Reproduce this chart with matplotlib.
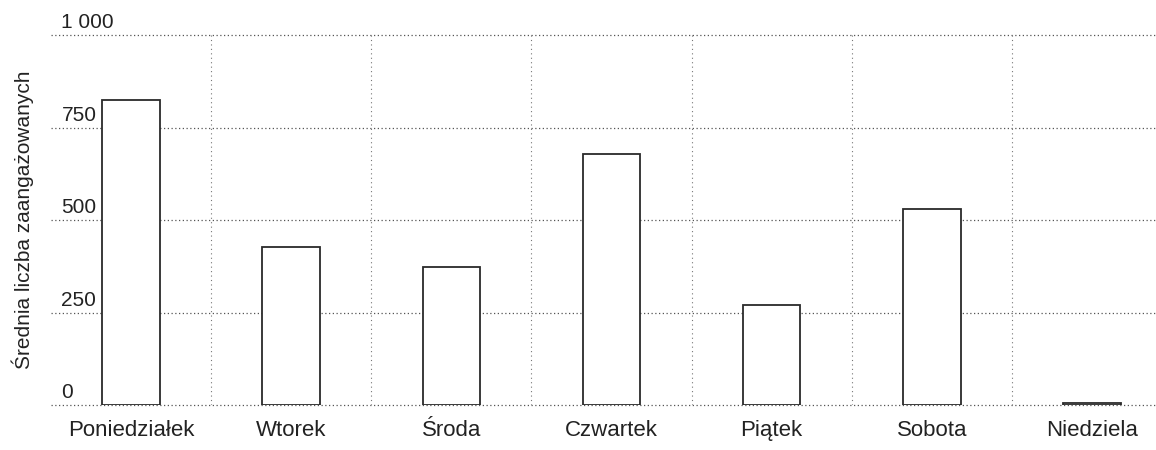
"""Średnia liczba zaangażowanych wg dnia tygodnia — słupki z kropkowaną siatką."""

import matplotlib

matplotlib.use("Agg")
import matplotlib.pyplot as plt
from matplotlib.transforms import blended_transform_factory, offset_copy

days = ["Poniedziałek", "Wtorek", "Środa", "Czwartek", "Piątek", "Sobota", "Niedziela"]
engaged = [825, 427, 373, 678, 270, 530, 5]
y_ticks = [0, 250, 500, 750, 1000]
y_tick_labels = ["0", "250", "500", "750", "1 000"]

plt.rcParams["font.family"] = ["Liberation Sans", "DejaVu Sans"]

fig = plt.figure(figsize=(11.56, 4.5), dpi=100)
ax = fig.add_axes([0.0441, 0.1, 0.9559, 0.8222])

x = list(range(len(days)))
ax.bar(x, engaged, width=0.36, facecolor="white", edgecolor="#2a2a2a",
       linewidth=1.3, zorder=3)

ax.set_xlim(-0.5, 6.4)
ax.set_ylim(0, 1000)

# dotted grid: horizontal at value ticks, vertical between categories
for v in y_ticks:
    ax.axhline(v, color="#555555", linewidth=0.9, linestyle=(0, (1, 2)),
               zorder=1, clip_on=False)
for k in range(len(days) - 1):
    ax.axvline(k + 0.5, color="#777777", linewidth=0.8,
               linestyle=(0, (1, 3)), zorder=1)

# value labels sit just above their gridline, inside the plot
trans = blended_transform_factory(ax.transAxes, ax.transData)
trans = offset_copy(trans, fig=fig, y=2, units="points")
for v, lab in zip(y_ticks, y_tick_labels):
    ax.text(0.0095, v, lab, transform=trans, ha="left", va="bottom",
            fontsize=15, color="#222222", clip_on=False, zorder=4)

ax.set_xticks(x)
ax.set_xticklabels(days, fontsize=16, color="#222222")
ax.tick_params(axis="x", length=0, pad=11)
ax.set_yticks([])
ax.set_ylabel("Średnia liczba zaangażowanych", fontsize=15, color="#222222")
ax.yaxis.set_label_coords(-0.015, 0.5)

for s in ax.spines.values():
    s.set_visible(False)

fig.savefig("out.png", dpi=100)
